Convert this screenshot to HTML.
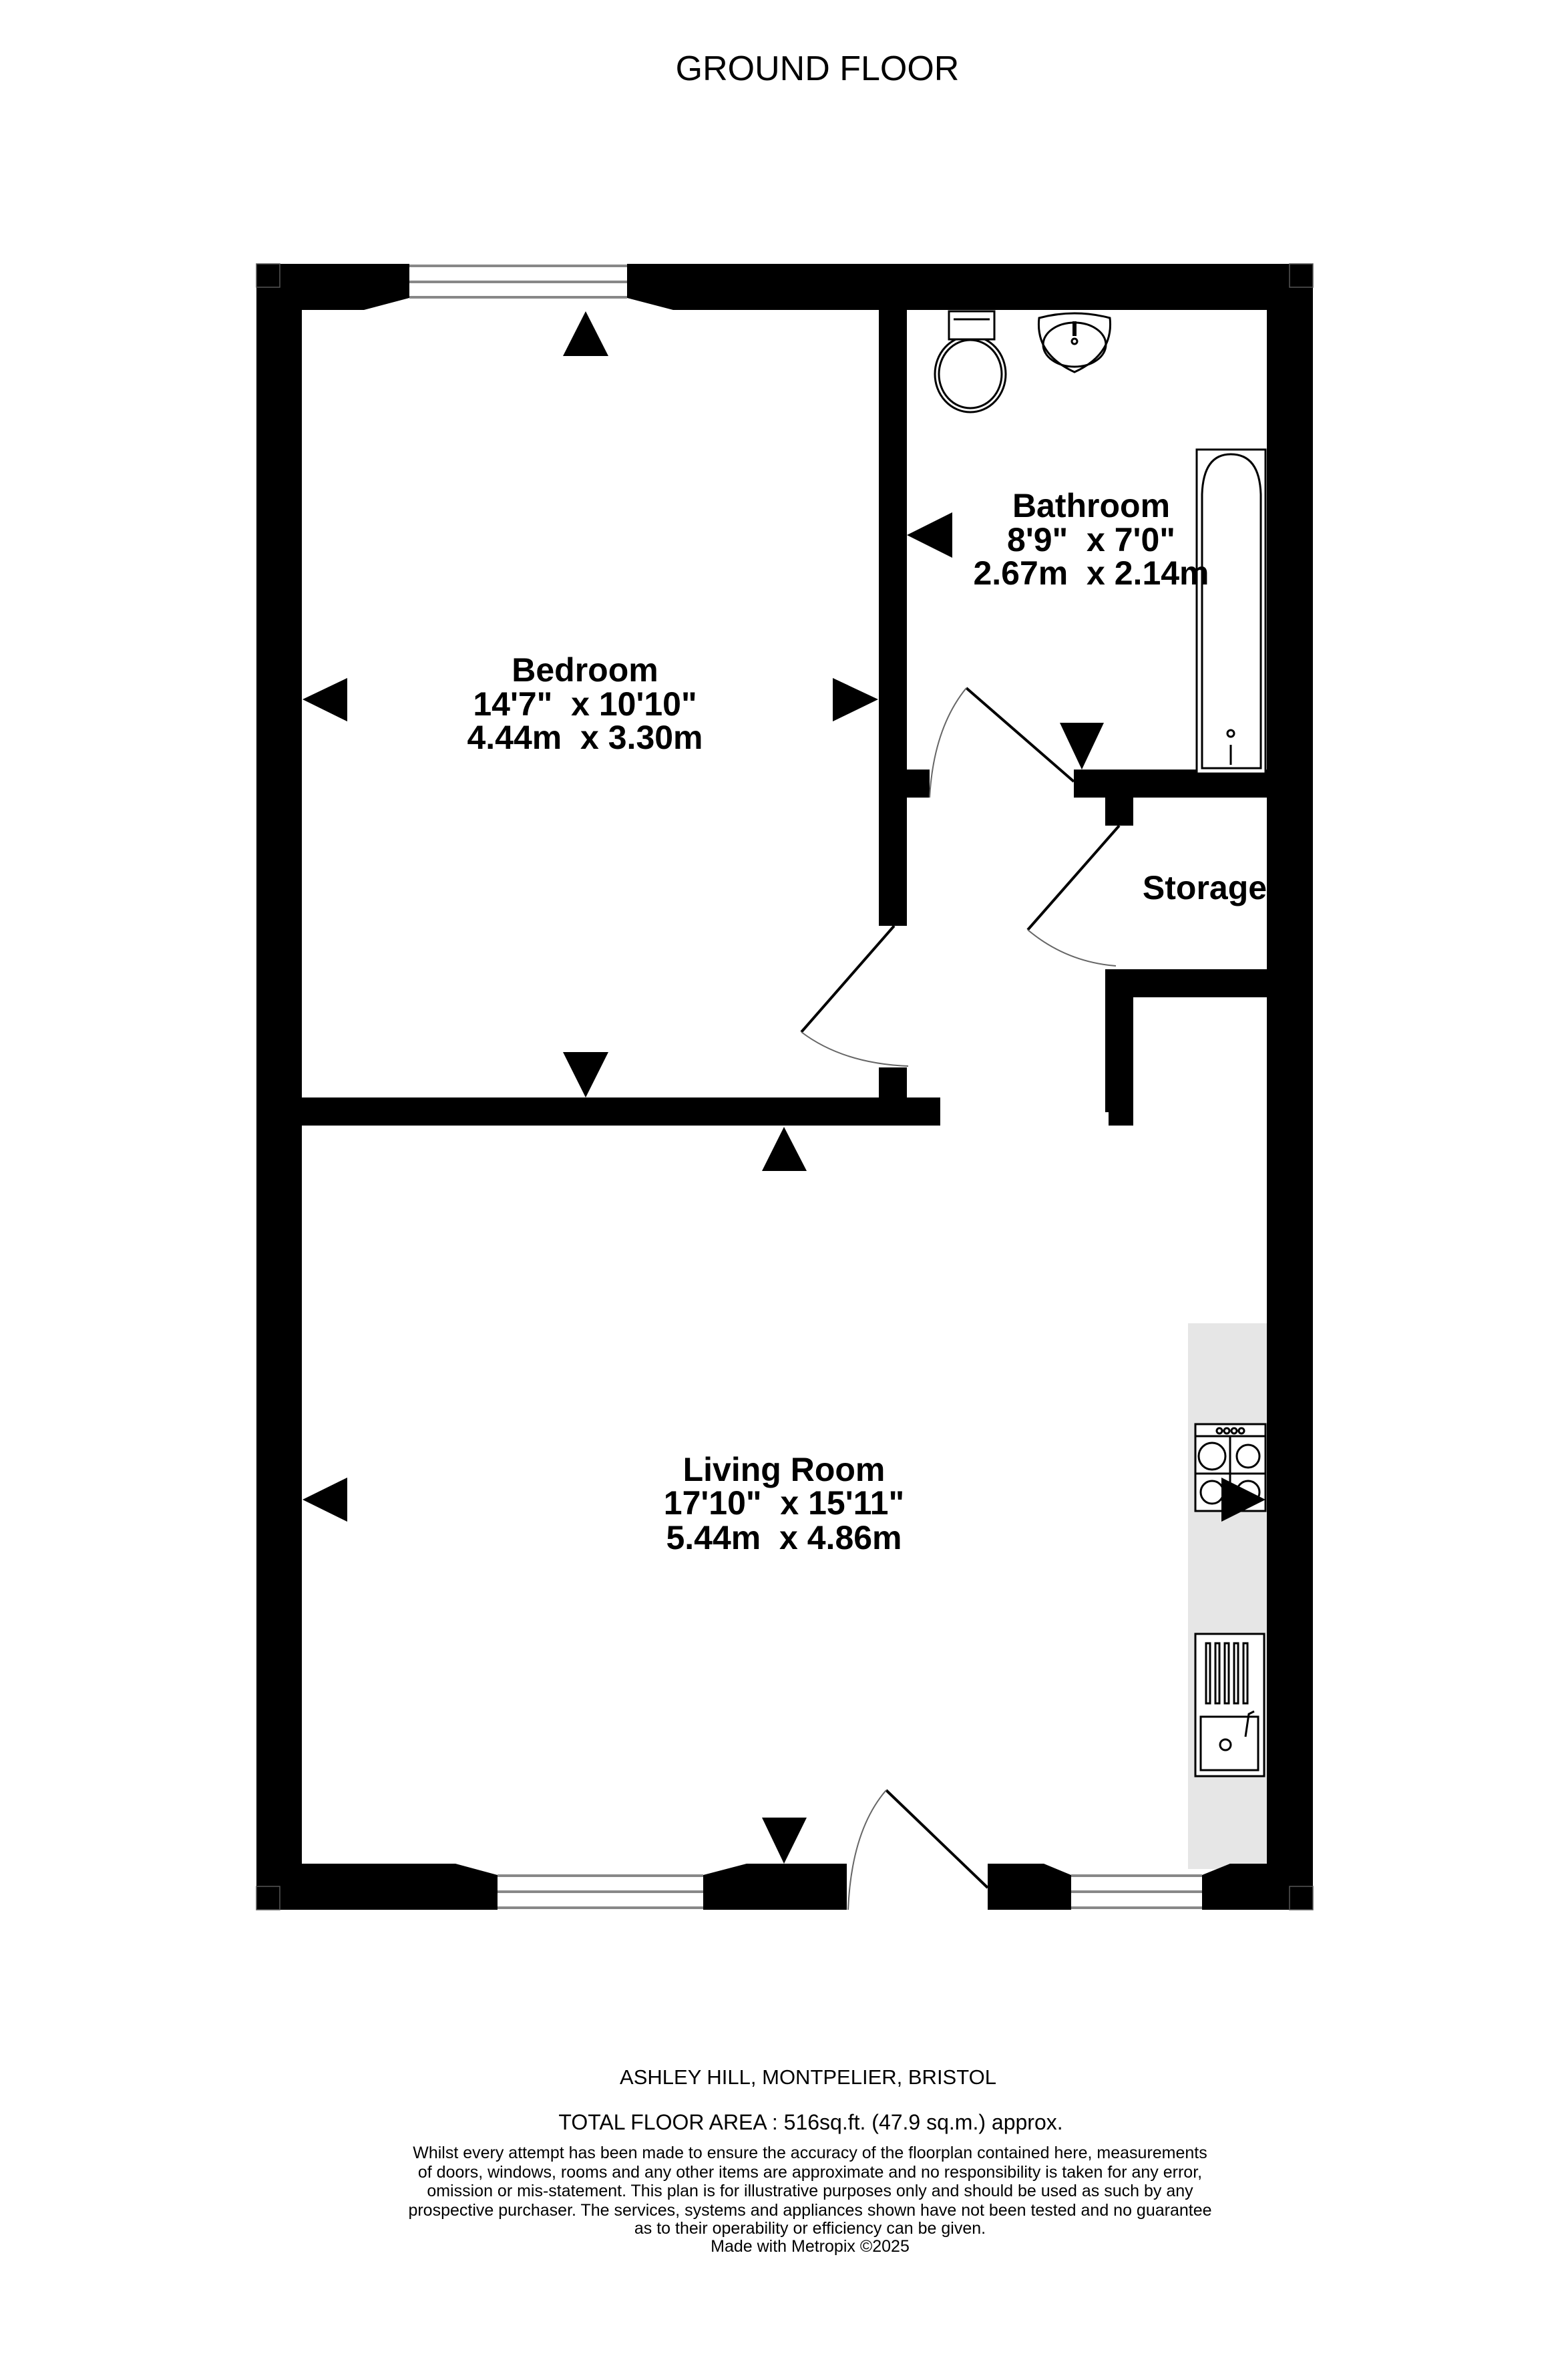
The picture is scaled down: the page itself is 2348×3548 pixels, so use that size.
<!DOCTYPE html>
<html><head><meta charset="utf-8"><style>
html,body{margin:0;padding:0;background:#fff;}
svg{display:block;}
text{font-family:"Liberation Sans",Arial,sans-serif;fill:#000;}
.b{font-weight:bold;font-size:50px;}
</style></head><body>
<svg width="2348" height="3548" viewBox="0 0 2348 3548" xmlns="http://www.w3.org/2000/svg">
<rect width="2348" height="3548" fill="#fff"/>
<text x="1224" y="120" font-size="52" text-anchor="middle">GROUND FLOOR</text>

<!-- kitchen counter -->
<rect x="1779" y="1981" width="118" height="817" fill="#e6e6e6"/>

<g fill="#000">
<!-- outer walls -->
<rect x="384" y="395" width="68" height="2464"/>
<rect x="1897" y="395" width="69" height="2464"/>
<rect x="384" y="395" width="161" height="69"/>
<rect x="1008" y="395" width="958" height="69"/>
<polygon points="545,395 613,395 613,446 545,464"/>
<polygon points="939,395 1008,395 1008,464 939,446"/>
<!-- bottom -->
<rect x="384" y="2790" width="298" height="69"/>
<polygon points="682,2790 745,2807 745,2859 682,2859"/>
<polygon points="1053,2807 1118,2790 1118,2859 1053,2859"/>
<rect x="1118" y="2790" width="150" height="69"/>
<rect x="1479" y="2790" width="84" height="69"/>
<polygon points="1563,2790 1604,2807 1604,2859 1563,2859"/>
<polygon points="1800,2807 1842,2790 1842,2859 1800,2859"/>
<rect x="1842" y="2790" width="124" height="69"/>
<!-- partitions -->
<rect x="1316" y="464" width="42" height="922"/>
<rect x="1316" y="1598" width="42" height="45"/>
<rect x="452" y="1643" width="956" height="42"/>
<rect x="1608" y="1152" width="289" height="42"/>
<rect x="1358" y="1152" width="34" height="42"/>
<rect x="1655" y="1194" width="42" height="42"/>
<rect x="1655" y="1451" width="242" height="42"/>
<rect x="1655" y="1493" width="42" height="172"/>
<rect x="1660" y="1665" width="37" height="20"/>
</g>
<!-- corner outlines -->
<g fill="none" stroke="#555" stroke-width="1.5">
<rect x="384" y="395" width="35" height="35"/>
<rect x="1931" y="395" width="35" height="35"/>
<rect x="384" y="2824" width="35" height="35"/>
<rect x="1931" y="2824" width="35" height="35"/>
</g>
<!-- window glass -->
<g stroke="#888" stroke-width="4">
<line x1="613" y1="398" x2="939" y2="398"/><line x1="613" y1="422" x2="939" y2="422"/><line x1="613" y1="445" x2="939" y2="445"/>
<line x1="745" y1="2808" x2="1053" y2="2808"/><line x1="745" y1="2832" x2="1053" y2="2832"/><line x1="745" y1="2856" x2="1053" y2="2856"/>
<line x1="1604" y1="2808" x2="1800" y2="2808"/><line x1="1604" y1="2832" x2="1800" y2="2832"/><line x1="1604" y1="2856" x2="1800" y2="2856"/>
</g>

<!-- doors -->
<g fill="none">
<line x1="1608" y1="1170" x2="1447" y2="1030" stroke="#000" stroke-width="4"/>
<path d="M1447,1030 Q1398,1090 1392,1194" stroke="#666" stroke-width="2"/>
<line x1="1676" y1="1236" x2="1539" y2="1392" stroke="#000" stroke-width="4"/>
<path d="M1539,1392 Q1596,1440 1671,1446" stroke="#666" stroke-width="2"/>
<line x1="1339" y1="1386" x2="1200" y2="1545" stroke="#000" stroke-width="4"/>
<path d="M1200,1545 Q1262,1592 1360,1596" stroke="#666" stroke-width="2"/>
<line x1="1327" y1="2680" x2="1479" y2="2826" stroke="#000" stroke-width="4"/>
<path d="M1327,2680 Q1275,2740 1270,2859" stroke="#666" stroke-width="2"/>
</g>

<!-- bathroom fixtures -->
<g fill="none" stroke="#000" stroke-width="3">
<rect x="1792" y="673" width="103" height="485" fill="#fff"/>
<path d="M1800,1150 L1800,740 Q1802,680 1843,680 Q1886,680 1888,740 L1888,1150 Z"/>
<ellipse cx="1453" cy="560" rx="53" ry="57" fill="#fff"/>
<ellipse cx="1453" cy="560" rx="47" ry="51"/>
<rect x="1421" y="466" width="68" height="42" fill="#fff"/>
<line x1="1428" y1="478" x2="1482" y2="478"/>
<path d="M1556,476 Q1609,462 1662,476 Q1668,530 1609,557 Q1550,530 1556,476 Z" fill="#fff"/>
<ellipse cx="1609" cy="516" rx="47" ry="33"/>
<line x1="1609" y1="481" x2="1609" y2="503" stroke-width="6"/>
<circle cx="1609" cy="511" r="4"/>
<circle cx="1843" cy="1098" r="5"/>
<line x1="1843" y1="1115" x2="1843" y2="1145"/>
</g>

<!-- hob -->
<g fill="none" stroke="#000" stroke-width="3">
<rect x="1790" y="2132" width="105" height="130" fill="#fff"/>
<line x1="1790" y1="2150" x2="1895" y2="2150"/>
<circle cx="1826" cy="2142" r="4"/><circle cx="1837" cy="2142" r="4"/><circle cx="1848" cy="2142" r="4"/><circle cx="1859" cy="2142" r="4"/>
<line x1="1842" y1="2150" x2="1842" y2="2262"/>
<line x1="1790" y1="2206" x2="1895" y2="2206"/>
<circle cx="1815" cy="2180" r="20"/><circle cx="1869" cy="2180" r="17"/>
<circle cx="1815" cy="2234" r="17"/><circle cx="1869" cy="2234" r="17"/>
</g>
<!-- sink -->
<g fill="none" stroke="#000" stroke-width="3">
<rect x="1790" y="2446" width="103" height="213" fill="#fff"/>
<rect x="1806" y="2460" width="6" height="90"/><rect x="1820" y="2460" width="6" height="90"/><rect x="1834" y="2460" width="6" height="90"/><rect x="1848" y="2460" width="6" height="90"/><rect x="1862" y="2460" width="6" height="90"/>
<rect x="1798" y="2570" width="86" height="80"/>
<circle cx="1835" cy="2612" r="8"/>
<path d="M1865,2600 L1870,2566 L1878,2562"/>
</g>

<!-- arrows -->
<g fill="#000">
<polygon points="843,533 911,533 877,466"/>
<polygon points="520,1015 520,1080 453,1047"/>
<polygon points="1247,1015 1247,1080 1315,1047"/>
<polygon points="843,1575 911,1575 877,1643"/>
<polygon points="1426,767 1426,835 1358,801"/>
<polygon points="1587,1082 1653,1082 1620,1152"/>
<polygon points="1141,1753 1208,1753 1174,1687"/>
<polygon points="520,2212 520,2278 453,2245"/>
<polygon points="1829,2212 1829,2278 1895,2245"/>
<polygon points="1141,2721 1208,2721 1174,2790"/>
</g>

<!-- room labels -->
<g text-anchor="middle" style="white-space:pre">
<text class="b" x="876" y="1020">Bedroom</text>
<text class="b" x="876" y="1071" xml:space="preserve">14'7"  x 10'10"</text>
<text class="b" x="876" y="1121" xml:space="preserve">4.44m  x 3.30m</text>
<text class="b" x="1634" y="774">Bathroom</text>
<text class="b" x="1634" y="825" xml:space="preserve">8'9"  x 7'0"</text>
<text class="b" x="1634" y="875" xml:space="preserve">2.67m  x 2.14m</text>
<text class="b" x="1804" y="1346">Storage</text>
<text class="b" x="1174" y="2217">Living Room</text>
<text class="b" x="1174" y="2267" xml:space="preserve">17'10"  x 15'11"</text>
<text class="b" x="1174" y="2319" xml:space="preserve">5.44m  x 4.86m</text>
</g>

<!-- footer -->
<g text-anchor="middle">
<text x="1210" y="3120" font-size="31">ASHLEY HILL, MONTPELIER, BRISTOL</text>
<text x="1214" y="3188" font-size="32">TOTAL FLOOR AREA : 516sq.ft. (47.9 sq.m.) approx.</text>
<text x="1213" y="3231" font-size="25">Whilst every attempt has been made to ensure the accuracy of the floorplan contained here, measurements</text>
<text x="1213" y="3260" font-size="25">of doors, windows, rooms and any other items are approximate and no responsibility is taken for any error,</text>
<text x="1213" y="3288" font-size="25">omission or mis-statement. This plan is for illustrative purposes only and should be used as such by any</text>
<text x="1213" y="3317" font-size="25">prospective purchaser. The services, systems and appliances shown have not been tested and no guarantee</text>
<text x="1213" y="3344" font-size="25">as to their operability or efficiency can be given.</text>
<text x="1213" y="3371" font-size="25">Made with Metropix ©2025</text>
</g>
</svg>
</body></html>
